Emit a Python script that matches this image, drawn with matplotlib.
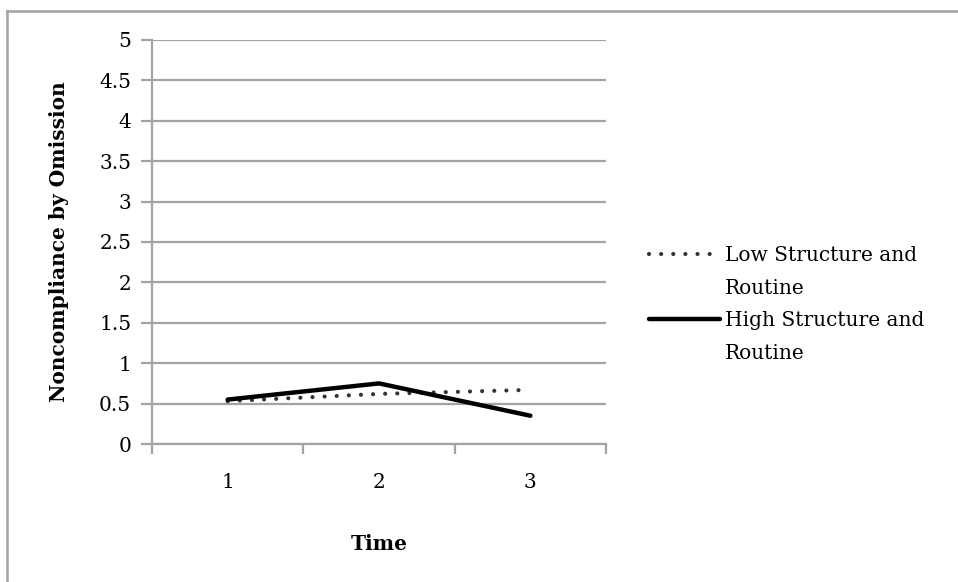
import matplotlib.pyplot as plt
from matplotlib.lines import Line2D

# data
times = [1, 2, 3]
low_structure = [0.53, 0.62, 0.67]
high_structure = [0.55, 0.75, 0.35]
y_ticks = [0, 0.5, 1, 1.5, 2, 2.5, 3, 3.5, 4, 4.5, 5]
y_tick_labels = ["0", "0.5", "1", "1.5", "2", "2.5", "3", "3.5", "4", "4.5", "5"]

plt.rcParams["font.family"] = ["DejaVu Serif"]
grey = "#a3a3a3"

fig = plt.figure(figsize=(9.58, 5.82), dpi=100)
ax = fig.add_axes([0.1587, 0.2371, 0.4739, 0.6942])

ax.plot(times, low_structure, color="#333333", lw=3.0, linestyle=(0, (0.01, 2.9)),
        dash_capstyle="round", solid_capstyle="round", label="Low Structure and")
ax.plot(times, high_structure, color="black", lw=3.2, solid_capstyle="round",
        label="High Structure and")

ax.set_xlim(0.5, 3.5)
ax.set_ylim(0, 5)
ax.set_yticks(y_ticks)
ax.set_yticklabels(y_tick_labels)
ax.set_xticks([0.5, 1.5, 2.5, 3.5])
ax.set_xticklabels([])
ax.set_xticks(times, minor=True)
ax.set_xticklabels([str(t) for t in times], minor=True)

ax.yaxis.grid(True, color=grey, lw=1.6)
ax.set_axisbelow(True)
for side in ["top", "right"]:
    ax.spines[side].set_visible(False)
for side in ["left", "bottom"]:
    ax.spines[side].set_color(grey)
    ax.spines[side].set_linewidth(1.6)

ax.tick_params(axis="y", length=8, width=1.6, color=grey, labelsize=14.5, pad=7)
ax.tick_params(axis="x", which="major", length=7, width=1.6, color=grey, direction="out")
ax.tick_params(axis="x", which="minor", length=0, labelsize=14.5, pad=21)

ax.set_ylabel("Noncompliance by Omission", fontsize=14.5, fontweight="bold", labelpad=22)
ax.set_xlabel("Time", fontsize=14.5, fontweight="bold", labelpad=30)

# legend: handle beside the first line of each label
h_low, h_high = ax.get_lines()
blank = Line2D([], [], color="none")
ax.legend([h_low, blank, h_high, blank],
          ["Low Structure and", "Routine", "High Structure and", "Routine"],
          loc="center left", bbox_to_anchor=(1.055, 0.345), frameon=False,
          fontsize=14.5, handlelength=3.5, handletextpad=0.25, labelspacing=0.68)

# outer chart border (top and left edges visible)
fig.add_artist(Line2D([0.0073, 1.0], [0.981, 0.981], transform=fig.transFigure, color=grey, lw=1.8))
fig.add_artist(Line2D([0.0073, 0.0073], [0.0, 0.981], transform=fig.transFigure, color=grey, lw=1.8))

fig.savefig("out.png", dpi=100)
